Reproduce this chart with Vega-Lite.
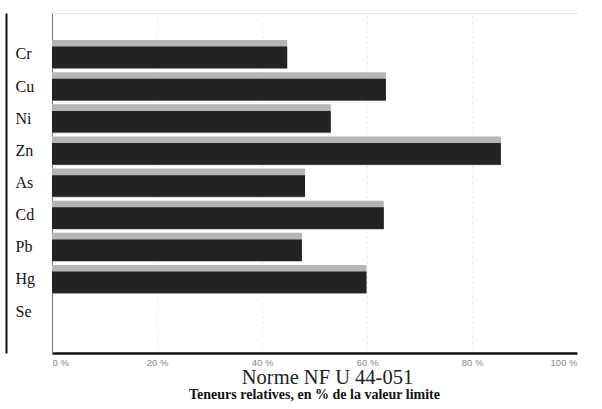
{
  "$schema": "https://vega.github.io/schema/vega-lite/v6.json",
  "width": 525,
  "height": 340,
  "autosize": {"type": "none"},
  "padding": {"left": 52, "top": 13, "right": 25, "bottom": 56},
  "background": "white",
  "config": {"view": {"stroke": null}},
  "data": {
    "values": [
      {"el": "Cr", "v": 44.8},
      {"el": "Cu", "v": 63.6},
      {"el": "Ni", "v": 53.1},
      {"el": "Zn", "v": 85.5},
      {"el": "As", "v": 48.2},
      {"el": "Cd", "v": 63.2},
      {"el": "Pb", "v": 47.6},
      {"el": "Hg", "v": 59.9},
      {"el": "Se", "v": 0}
    ]
  },
  "title": {
    "text": "Teneurs relatives, en % de la valeur limite",
    "orient": "bottom",
    "font": "Liberation Serif",
    "fontSize": 14,
    "fontWeight": "bold",
    "color": "#111",
    "offset": 0
  },
  "layer": [
    {
      "mark": {"type": "bar", "color": "#b5b5b5"},
      "encoding": {
        "y": {
          "field": "el", "type": "nominal", "sort": null,
          "scale": {"paddingInner": 0.1, "paddingOuter": 0.84},
          "axis": {
            "title": null, "ticks": false, "grid": false,
            "domainColor": "#777", "domainWidth": 1,
            "labelAlign": "left", "labelPadding": 37,
            "labelFont": "Liberation Serif", "labelFontSize": 16, "labelColor": "#111"
          }
        },
        "x": {
          "field": "v", "type": "quantitative",
          "scale": {"domain": [0, 100]},
          "axis": {
            "values": [0, 20, 40, 60, 80, 100],
            "labelExpr": "datum.value + ' %'",
            "labelFont": "Liberation Sans", "labelFontSize": 9.5, "labelColor": "#888",
            "labelDx": 4, "labelPadding": 4,
            "ticks": false,
            "domainColor": "#111", "domainWidth": 2.5,
            "grid": true, "gridColor": "#e4e4e4", "gridDash": [2, 3],
            "gridOpacity": {"condition": {"test": "datum.value == 0 || datum.value == 100", "value": 0}, "value": 1},
            "title": "Norme NF U 44-051",
            "titleFont": "Liberation Serif", "titleFontSize": 20.5, "titleFontWeight": "normal",
            "titleColor": "#222", "titlePadding": 1, "titleX": 275
          }
        }
      }
    },
    {
      "mark": {"type": "bar", "color": "#232323", "height": {"band": 0.75}, "yOffset": 3},
      "encoding": {
        "y": {
          "field": "el", "type": "nominal", "sort": null,
          "axis": {
            "orient": "left", "offset": 46, "title": null, "labels": false, "ticks": false,
            "grid": false, "domainColor": "#111", "domainWidth": 2
          }
        },
        "x": {
          "field": "v", "type": "quantitative",
          "axis": {
            "orient": "top", "title": null, "labels": false, "ticks": false,
            "grid": false, "domainColor": "#e3e3e3", "domainWidth": 1
          }
        }
      }
    }
  ],
  "resolve": {"axis": {"x": "independent", "y": "independent"}}
}
